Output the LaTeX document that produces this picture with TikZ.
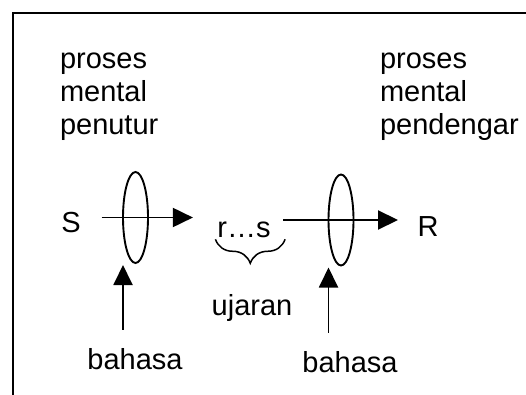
\documentclass[tikz,border=0pt]{standalone}
\usepackage{fontspec}
\setmainfont{Liberation Sans}
\usetikzlibrary{arrows.meta}
\usetikzlibrary{shapes.geometric}
\usetikzlibrary{decorations.pathreplacing}

\begin{document}
\begin{tikzpicture}[x=1pt,y=-1pt,line width=1.9pt,
  every node/.style={inner sep=0pt,outer sep=0pt},
  word/.style={font=\fontsize{29}{33}\selectfont},
  lens/.style={draw,ellipse,minimum width=25pt,minimum height=91pt},
  flow/.style={-{Triangle[length=20pt,width=19pt]}}]
  \useasboundingbox (0,0) rectangle (526,395);
  \draw[line width=2pt] (526,13)--(13,13)--(13,395);

  % penutur
  \node[word,anchor=base west] (pa) at (60,69) {proses};
  \node[word,anchor=base west] (ma) at (60,102) {mental};
  \node[word,anchor=base west] (ta) at (60,135) {penutur};
  % pendengar
  \node[word,anchor=base west] (pb) at (380,69) {proses};
  \node[word,anchor=base west] (mb) at (380,102) {mental};
  \node[word,anchor=base west] (tb) at (380,135) {pendengar};

  \node[word,anchor=base] (S) at (71,232) {S};
  \node[word,anchor=base] (rs) at (244,237) {r…s};
  \node[word,anchor=base] (R) at (428,236) {R};
  \node[lens] (lensA) at (135.5,217.5) {};
  \node[lens] (lensB) at (341,220) {};

  \node[word,anchor=base] (uj) at (252,315) {ujaran};
  \node[word,anchor=base] (bA) at (135,369) {bahasa};
  \node[word,anchor=base] (bB) at (350,372) {bahasa};

  \draw[flow,shorten <=21pt,shorten >=24.5pt](S.east |- lensA)--(rs.west |- lensA);
  \draw[flow,shorten <=12.5pt,shorten >=19.5pt](rs.east |- lensB)--(R.west |- lensB);
  \draw[flow,shorten <=18pt,shorten >=2pt](lensA.west |- bA.north)--(lensA.south -| lensA.west);
  \draw[flow,shorten <=18pt,shorten >=2pt](lensB.west |- bB.north)--(lensB.south -| lensB.west);
  \draw[decorate,decoration={brace,mirror,amplitude=24pt},line width=1.5pt]
    ([xshift=-2pt,yshift=-2pt]rs.south west)--([xshift=14.5pt,yshift=-2pt]rs.south east);
\end{tikzpicture}
\end{document}
